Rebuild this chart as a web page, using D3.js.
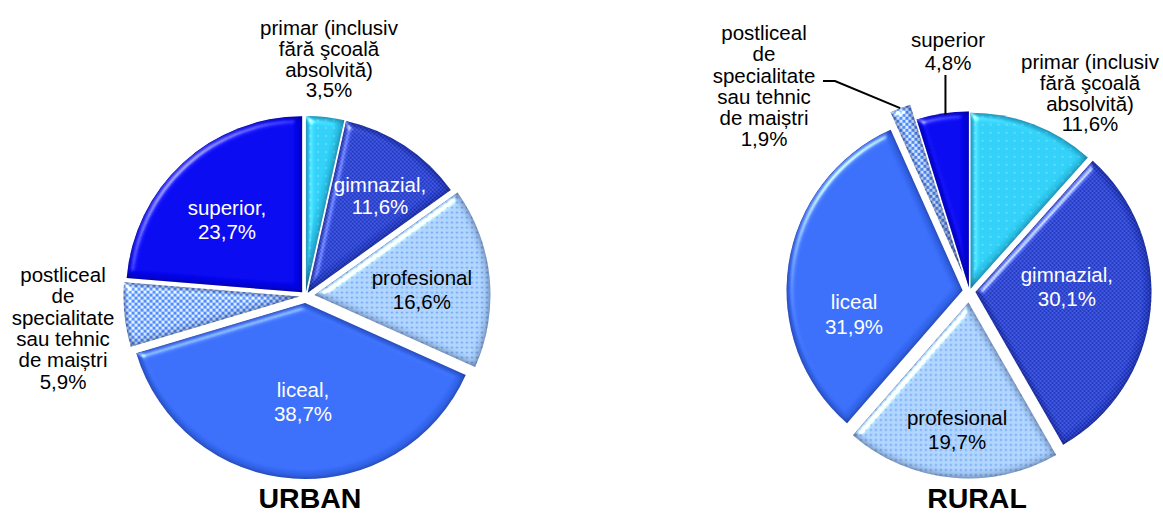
<!DOCTYPE html>
<html>
<head>
<meta charset="utf-8">
<script src="https://cdn.jsdelivr.net/npm/d3@7"></script>
<style>
  body { margin: 0; background: #fff; }
  text { font-family: "Liberation Sans", Arial, sans-serif; }
</style>
</head>
<body>
<script>
// education level shares, % of population
const categories = ["primar", "gimnazial", "profesional", "liceal", "postliceal", "superior"];
const urbanValues = [3.5, 11.6, 16.6, 38.7, 5.9, 23.7];
const ruralValues = [11.6, 30.1, 19.7, 31.9, 1.9, 4.8];

const urbanLabels = [
  ["primar (inclusiv", "fără şcoală", "absolvită)", "3,5%"],
  ["gimnazial,", "11,6%"],
  ["profesional", "16,6%"],
  ["liceal,", "38,7%"],
  ["postliceal", "de", "specialitate", "sau tehnic", "de maiștri", "5,9%"],
  ["superior,", "23,7%"]
];
const ruralLabels = [
  ["primar (inclusiv", "fără şcoală", "absolvită)", "11,6%"],
  ["gimnazial,", "30,1%"],
  ["profesional", "19,7%"],
  ["liceal", "31,9%"],
  ["postliceal", "de", "specialitate", "sau tehnic", "de maiștri", "1,9%"],
  ["superior", "4,8%"]
];

const W = 1163, H = 515, R = 176;

const svg = d3.select("body").append("svg")
  .attr("width", W)
  .attr("height", H);

const defs = svg.append("defs");

// fills per category
const fills = [
  { base: "#2ccaf0", kind: "dots", c2: "#8fe2f8", s: 8, r: 0.8 },
  { base: "#1c2fb8", kind: "check", c2: "#3a55dc", s: 2 },
  { base: "#a9cff9", kind: "dots", c2: "#5f90e6", s: 5, r: 1 },
  { base: "#3569f4", kind: "solid" },
  { base: "#4a84f0", kind: "check", c2: "#d6e6ff", s: 3 },
  { base: "#0404ea", kind: "solid" }
];

fills.forEach((f, i) => {
  if (f.kind === "solid") return;
  const p = defs.append("pattern")
    .attr("id", "pat" + i)
    .attr("patternUnits", "userSpaceOnUse")
    .attr("width", f.kind === "check" ? f.s * 2 : f.s)
    .attr("height", f.kind === "check" ? f.s * 2 : f.s);
  if (f.kind === "check") {
    p.append("rect").attr("width", f.s * 2).attr("height", f.s * 2).attr("fill", f.base);
    p.append("rect").attr("width", f.s).attr("height", f.s).attr("fill", f.c2);
    p.append("rect").attr("x", f.s).attr("y", f.s).attr("width", f.s).attr("height", f.s).attr("fill", f.c2);
  } else {
    p.append("rect").attr("width", f.s).attr("height", f.s).attr("fill", f.base);
    p.append("circle").attr("cx", f.s / 2).attr("cy", f.s / 2).attr("r", f.r).attr("fill", f.c2);
  }
});

// soft bevel like the office "soft round" effect
const filt = defs.append("filter").attr("id", "bevel")
  .attr("color-interpolation-filters", "sRGB")
  .attr("x", "-10%").attr("y", "-10%").attr("width", "120%").attr("height", "120%");
filt.append("feGaussianBlur").attr("in", "SourceAlpha").attr("stdDeviation", 3.5).attr("result", "blur");
filt.append("feSpecularLighting").attr("in", "blur").attr("surfaceScale", 4)
  .attr("specularConstant", 1).attr("specularExponent", 30)
  .attr("lighting-color", "#ffffff").attr("result", "spec")
  .append("feDistantLight").attr("azimuth", 225).attr("elevation", 40);
filt.append("feComposite").attr("in", "spec").attr("in2", "SourceAlpha").attr("operator", "in").attr("result", "specIn");
filt.append("feComponentTransfer").attr("in", "blur").attr("result", "rim")
  .append("feFuncA").attr("type", "table").attr("tableValues", "1 0");
filt.append("feFlood").attr("flood-color", "#000022").attr("flood-opacity", 0.55).attr("result", "dark");
filt.append("feComposite").attr("in", "dark").attr("in2", "rim").attr("operator", "in").attr("result", "rimDark");
filt.append("feComposite").attr("in", "rimDark").attr("in2", "SourceAlpha").attr("operator", "in").attr("result", "rimIn");
const mrg = filt.append("feMerge").attr("result", "base");
mrg.append("feMergeNode").attr("in", "SourceGraphic");
mrg.append("feMergeNode").attr("in", "rimIn");
filt.append("feComposite").attr("in", "base").attr("in2", "specIn")
  .attr("operator", "arithmetic").attr("k1", 0).attr("k2", 1).attr("k3", 0.6).attr("k4", 0);

const charts = [
  {
    title: "URBAN", values: urbanValues, labels: urbanLabels,
    cx: 305.5, cy: 296, titleX: 310,
    explode: [4, 4, 9, 7, 6, 5],
    // inside: radius factor + angle shift (deg); outside: offset from centre
    place: [
      { out: [23.5, -268], lh: 20.7 },
      { k: 0.686, da: 3.3, color: "#fff", lh: 22 },
      { k: 0.611, da: 3, color: "#000", lh: 24 },
      { k: 0.563, da: -2.6, color: "#fff", lh: 24 },
      { out: [-242.5, -21], lh: 21.3 },
      { k: 0.593, da: -3.4, color: "#fff", lh: 24 }
    ]
  },
  {
    title: "RURAL", values: ruralValues, labels: ruralLabels,
    cx: 969.5, cy: 291.5, titleX: 977,
    explode: [3, 6, 11, 7, 20, 4],
    place: [
      { out: [120.5, -229.5], lh: 20.7 },
      { k: 0.52, da: -9.1, color: "#fff", lh: 24 },
      { k: 0.727, da: -0.5, color: "#000", lh: 24 },
      { k: 0.632, da: -21, color: "#fff", lh: 25 },
      { out: [-205.5, -258.5], lh: 21.2, leader: "knee" },
      { out: [-21.5, -251.5], lh: 23, leader: "down" }
    ]
  }
];

const rad = deg => deg * Math.PI / 180;

function drawPie(cfg) {
  const arcs = d3.pie().sort(null).value(d => d)(cfg.values);
  const arc = d3.arc().innerRadius(0).outerRadius(R);
  const g = svg.append("g").attr("transform", `translate(${cfg.cx},${cfg.cy})`);

  arcs.forEach((d, i) => {
    const mid = (d.startAngle + d.endAngle) / 2;
    const e = cfg.explode[i];
    d.ox = e * Math.sin(mid);
    d.oy = -e * Math.cos(mid);
    d.mid = mid;
    g.append("path")
      .attr("d", arc(d))
      .attr("transform", `translate(${d.ox},${d.oy})`)
      .attr("fill", fills[i].kind === "solid" ? fills[i].base : `url(#pat${i})`)
      .attr("filter", "url(#bevel)");
  });

  arcs.forEach((d, i) => {
    const pl = cfg.place[i];
    const lines = cfg.labels[i];
    let x, y;
    if (pl.out) {
      x = pl.out[0];
      y = pl.out[1];
    } else {
      const a = d.mid + rad(pl.da);
      const rr = pl.k * R;
      x = d.ox + rr * Math.sin(a);
      y = d.oy - rr * Math.cos(a) - (lines.length - 1) * pl.lh / 2;
    }
    const t = g.append("text")
      .attr("text-anchor", "middle")
      .attr("font-size", "20.5px")
      .attr("fill", pl.color || "#000");
    lines.forEach((ln, j) => {
      t.append("tspan").attr("x", x).attr("y", y + j * pl.lh).attr("dy", "0.35em").text(ln);
    });

    if (pl.leader) {
      const er = R + cfg.explode[i];
      const px = er * Math.sin(d.mid), py = -er * Math.cos(d.mid);
      let pts;
      if (pl.leader === "down") {
        pts = [[px + 3, y + pl.lh + 12], [px + 3, py + 1]];
      } else {
        pts = [[x + 59, y + 48], [x + 71, y + 48], [px, py]];
      }
      g.append("path")
        .attr("d", d3.line()(pts))
        .attr("fill", "none")
        .attr("stroke", "#000")
        .attr("stroke-width", 2);
    }
  });

  svg.append("text")
    .attr("x", cfg.titleX)
    .attr("y", 508)
    .attr("text-anchor", "middle")
    .attr("font-size", "28.5px")
    .attr("font-weight", "bold")
    .text(cfg.title);
}

charts.forEach(drawPie);
</script>
</body>
</html>
